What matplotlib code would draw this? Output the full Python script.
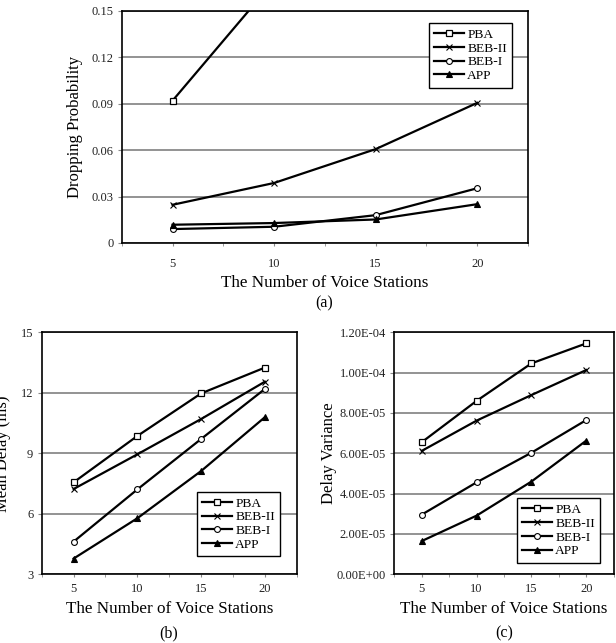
import matplotlib
matplotlib.use('Agg')
import matplotlib.pyplot as plt
import numpy as np

plt.rcParams['font.family'] = ['Liberation Serif', 'DejaVu Serif']

stations = [5, 10, 15, 20]
names = ['PBA', 'BEB-II', 'BEB-I', 'APP']

# (a) dropping probability, PBA leaves the plot after 10 stations
drop_pba = [0.092, 0.1695, np.nan, np.nan]
drop_beb2 = [0.0247, 0.0388, 0.0607, 0.0906]
drop_beb1 = [0.009, 0.0105, 0.018, 0.0354]
drop_app = [0.0118, 0.0129, 0.0152, 0.0251]

# (b) mean delay in ms
delay_pba = [7.56, 9.86, 11.97, 13.25]
delay_beb2 = [7.23, 8.95, 10.70, 12.55]
delay_beb1 = [4.62, 7.21, 9.71, 12.19]
delay_app = [3.78, 5.78, 8.12, 10.79]

# (c) delay variance
var_pba = [6.55e-5, 8.6e-5, 1.046e-4, 1.145e-4]
var_beb2 = [6.12e-5, 7.62e-5, 8.89e-5, 1.013e-4]
var_beb1 = [2.96e-5, 4.56e-5, 6.03e-5, 7.65e-5]
var_app = [1.65e-5, 2.91e-5, 4.6e-5, 6.63e-5]

styles = [
    dict(marker='s', markerfacecolor='white', markersize=4.5, markeredgewidth=0.9),
    dict(marker='x', markersize=5, markeredgewidth=0.8),
    dict(marker='o', markerfacecolor='white', markersize=4.2, markeredgewidth=0.8),
    dict(marker='^', markersize=5, markeredgewidth=0.8),
]

fig = plt.figure(figsize=(6.16, 6.43), dpi=100)


def panel(rect, series, ylim, yticks, ylabel, ylabel_x, legend_xy, xtick_pad, yfmt=None):
    ax = fig.add_axes(rect)
    for vals, name, st in zip(series, names, styles):
        ax.plot(stations, vals, color='black', linewidth=1.6, label=name,
                markeredgecolor='black', **st)
    ax.set_xlim(2.5, 22.5)
    ax.set_ylim(*ylim)
    ax.set_xticks(stations)
    ax.set_xticks([2.5, 7.5, 12.5, 17.5, 22.5], minor=True)
    ax.set_yticks(yticks)
    if yfmt is not None:
        ax.set_yticklabels([yfmt(v) for v in yticks])
    ax.yaxis.grid(True, color='#808080', linewidth=1.2)
    ax.set_axisbelow(True)
    for s in ax.spines.values():
        s.set_linewidth(1.2)
    ax.tick_params(axis='x', which='both', direction='out', length=2, color='#888888',
                   labelsize=9, pad=xtick_pad, labelcolor='#222222')
    ax.tick_params(axis='y', direction='out', length=3, color='#888888', labelsize=9,
                   pad=3, labelcolor='#222222')
    ax.set_xlabel('The Number of Voice Stations', fontsize=12.3, labelpad=4)
    ax.set_ylabel(ylabel, fontsize=12)
    ax.yaxis.set_label_coords(ylabel_x, 0.5)
    leg = ax.legend(loc='upper left', bbox_to_anchor=legend_xy, borderaxespad=0,
                    fontsize=9.7, frameon=True, fancybox=False, framealpha=1,
                    edgecolor='black', handlelength=2.2, handletextpad=0.25,
                    labelspacing=0.1, borderpad=0.4)
    leg.get_frame().set_linewidth(1.0)
    return ax


ax_a = panel([0.1976, 0.6221, 0.6596, 0.3608],
             [drop_pba, drop_beb2, drop_beb1, drop_app],
             (0, 0.15), [0, 0.03, 0.06, 0.09, 0.12, 0.15], 'Dropping Probability',
             -0.095, (0.756, 0.948), 8.5,
             yfmt=lambda v: '0' if v == 0 else '%g' % v)

ax_b = panel([0.0677, 0.1068, 0.414, 0.3764],
             [delay_pba, delay_beb2, delay_beb1, delay_app],
             (3, 15), [3, 6, 9, 12, 15], 'Mean Delay (ms)',
             -0.12, (0.608, 0.341), 4.5)

ax_c = panel([0.6401, 0.1068, 0.3562, 0.3764],
             [var_pba, var_beb2, var_beb1, var_app],
             (0, 1.2e-4), [0, 2e-5, 4e-5, 6e-5, 8e-5, 1e-4, 1.2e-4], 'Delay Variance',
             -0.261, (0.559, 0.314), 4.5,
             yfmt=lambda v: ('%.2E' % v))

fig.text(324 / 616, 1 - 303 / 643, '(a)', ha='center', va='center', fontsize=11.5)
fig.text(169 / 616, 1 - 633 / 643, '(b)', ha='center', va='center', fontsize=11.5)
fig.text(504 / 616, 1 - 633 / 643, '(c)', ha='center', va='center', fontsize=11.5)

plt.savefig('out.png', dpi=100)
